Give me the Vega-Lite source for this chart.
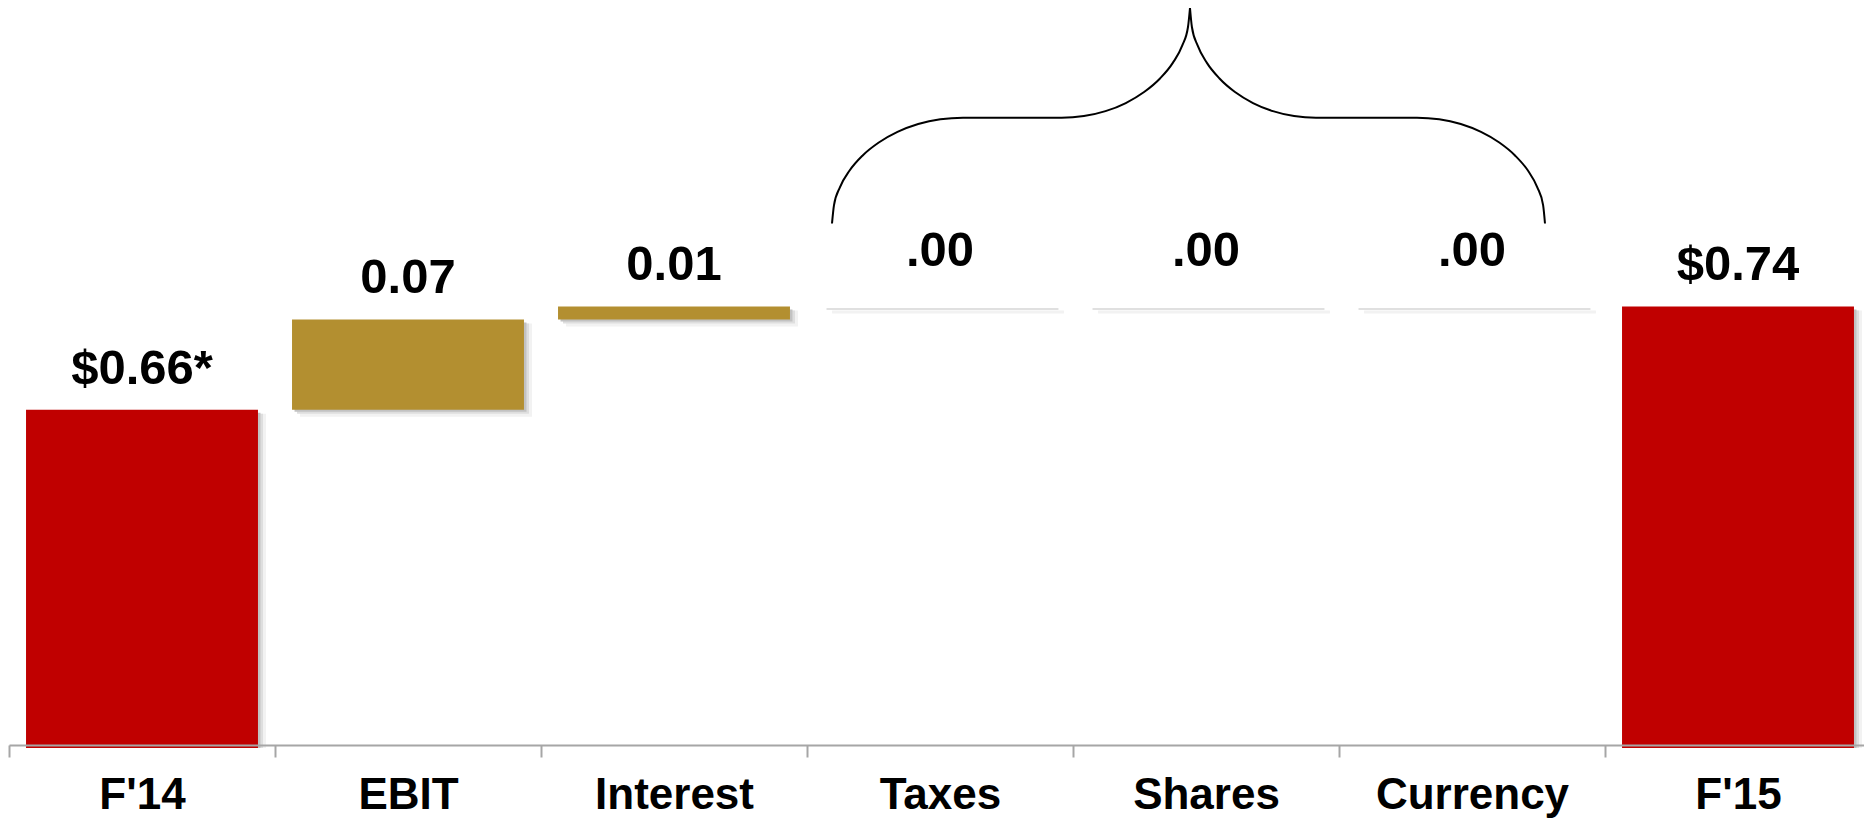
{
  "$schema": "https://vega.github.io/schema/vega-lite/v6.json",
  "width": 1855,
  "height": 748,
  "autosize": {"type": "none"},
  "padding": {"left": 9, "top": 0, "right": 0, "bottom": 70},
  "background": "white",
  "config": {"view": {"stroke": null}, "font": "Liberation Sans"},
  "datasets": {
    "steps": [
      {"step": "F'14", "start": 0, "end": 0.66, "label": "$0.66*", "kind": "total"},
      {"step": "EBIT", "start": 0.66, "end": 0.73, "label": "0.07", "kind": "change"},
      {"step": "Interest", "start": 0.73, "end": 0.74, "label": "0.01", "kind": "change"},
      {"step": "Taxes", "start": 0.74, "end": 0.74, "label": ".00", "kind": "change"},
      {"step": "Shares", "start": 0.74, "end": 0.74, "label": ".00", "kind": "change"},
      {"step": "Currency", "start": 0.74, "end": 0.74, "label": ".00", "kind": "change"},
      {"step": "F'15", "start": 0, "end": 0.74, "label": "$0.74", "kind": "total"}
    ],
    "brace": [
      {"side": "left", "pos": 3.0940, "v": 0.8043},
      {"side": "left", "pos": 3.1015, "v": 0.8185},
      {"side": "left", "pos": 3.1237, "v": 0.8323},
      {"side": "left", "pos": 3.1602, "v": 0.8453},
      {"side": "left", "pos": 3.2094, "v": 0.8570},
      {"side": "left", "pos": 3.2699, "v": 0.8670},
      {"side": "left", "pos": 3.3402, "v": 0.8752},
      {"side": "left", "pos": 3.4180, "v": 0.8813},
      {"side": "left", "pos": 3.5011, "v": 0.8850},
      {"side": "left", "pos": 3.5865, "v": 0.8862},
      {"side": "left", "pos": 3.9571, "v": 0.8862},
      {"side": "left", "pos": 4.0410, "v": 0.8875},
      {"side": "left", "pos": 4.1222, "v": 0.8913},
      {"side": "left", "pos": 4.1985, "v": 0.8976},
      {"side": "left", "pos": 4.2673, "v": 0.9061},
      {"side": "left", "pos": 4.3271, "v": 0.9166},
      {"side": "left", "pos": 4.3752, "v": 0.9287},
      {"side": "left", "pos": 4.4109, "v": 0.9422},
      {"side": "left", "pos": 4.4323, "v": 0.9565},
      {"side": "left", "pos": 4.4398, "v": 0.9712},
      {"side": "right", "pos": 4.4398, "v": 0.9712},
      {"side": "right", "pos": 4.4470, "v": 0.9565},
      {"side": "right", "pos": 4.4684, "v": 0.9422},
      {"side": "right", "pos": 4.5034, "v": 0.9287},
      {"side": "right", "pos": 4.5508, "v": 0.9166},
      {"side": "right", "pos": 4.6090, "v": 0.9061},
      {"side": "right", "pos": 4.6767, "v": 0.8976},
      {"side": "right", "pos": 4.7515, "v": 0.8913},
      {"side": "right", "pos": 4.8312, "v": 0.8875},
      {"side": "right", "pos": 4.9135, "v": 0.8862},
      {"side": "right", "pos": 5.2932, "v": 0.8862},
      {"side": "right", "pos": 5.3767, "v": 0.8850},
      {"side": "right", "pos": 5.4579, "v": 0.8813},
      {"side": "right", "pos": 5.5338, "v": 0.8752},
      {"side": "right", "pos": 5.6026, "v": 0.8670},
      {"side": "right", "pos": 5.6617, "v": 0.8570},
      {"side": "right", "pos": 5.7102, "v": 0.8453},
      {"side": "right", "pos": 5.7455, "v": 0.8323},
      {"side": "right", "pos": 5.7673, "v": 0.8185},
      {"side": "right", "pos": 5.7744, "v": 0.8043}
    ]
  },
  "layer": [
    {
      "data": {"name": "steps"},
      "encoding": {
        "x": {
          "field": "step",
          "type": "nominal",
          "sort": null,
          "scale": {"range": [0, 1862], "paddingInner": 0.128, "paddingOuter": 0.064},
          "axis": {
            "title": null,
            "labelAngle": 0,
            "grid": false,
            "domainColor": "#a6a6a6",
            "domainWidth": 2,
            "tickColor": "#a6a6a6",
            "tickWidth": 2,
            "tickSize": 12,
            "tickOffset": -133,
            "labelOffset": 133,
            "labelFont": "Liberation Sans",
            "labelFontSize": 44,
            "labelFontWeight": "bold",
            "labelColor": "#000000",
            "labelPadding": 51,
            "labelBaseline": "alphabetic",
            "labelLimit": 0,
            "offset": -3,
            "zindex": 1
          }
        },
        "y": {
          "field": "end",
          "type": "quantitative",
          "scale": {"domain": [0.398, 0.9774], "clamp": true, "zero": false, "nice": false},
          "axis": null
        }
      },
      "layer": [
        {
          "mark": {"type": "bar", "color": "#f2f2f2", "xOffset": 8, "yOffset": 4, "y2Offset": 7, "clip": true},
          "encoding": {"y2": {"field": "start"}}
        },
        {
          "mark": {"type": "bar", "color": "#dedede", "xOffset": 5, "yOffset": 4, "y2Offset": 4, "clip": true},
          "encoding": {"y2": {"field": "start"}}
        },
        {
          "mark": {"type": "bar", "color": "#c2c2c2", "xOffset": 2.5, "yOffset": 3, "y2Offset": 2, "clip": true},
          "encoding": {"y2": {"field": "start"}}
        },
        {
          "mark": {"type": "bar"},
          "encoding": {
            "y2": {"field": "start"},
            "color": {
              "field": "kind",
              "type": "nominal",
              "scale": {"domain": ["total", "change"], "range": ["#C00000", "#B38F30"]},
              "legend": null
            }
          }
        },
        {
          "transform": [{"filter": "datum.end != datum.start"}],
          "mark": {"type": "text", "font": "Liberation Sans", "fontSize": 49, "fontWeight": "bold", "color": "#000000", "baseline": "alphabetic", "align": "center", "dy": -26},
          "encoding": {"text": {"field": "label"}}
        },
        {
          "transform": [{"filter": "datum.end == datum.start"}],
          "mark": {"type": "text", "font": "Liberation Sans", "fontSize": 49, "fontWeight": "bold", "color": "#000000", "baseline": "alphabetic", "align": "center", "dy": -40},
          "encoding": {"text": {"field": "label"}}
        }
      ]
    },
    {
      "data": {"name": "brace"},
      "mark": {"type": "line", "interpolate": "monotone", "color": "#000000", "strokeWidth": 2},
      "encoding": {
        "x": {"field": "pos", "type": "quantitative", "scale": {"domain": [0, 7], "range": [0, 1862], "zero": false, "nice": false}, "axis": null},
        "y": {"field": "v", "type": "quantitative", "scale": {"domain": [0.398, 0.9774], "clamp": true, "zero": false, "nice": false}, "axis": null},
        "detail": {"field": "side"},
        "order": {"field": "pos"}
      }
    }
  ],
  "resolve": {"scale": {"x": "independent"}}
}
